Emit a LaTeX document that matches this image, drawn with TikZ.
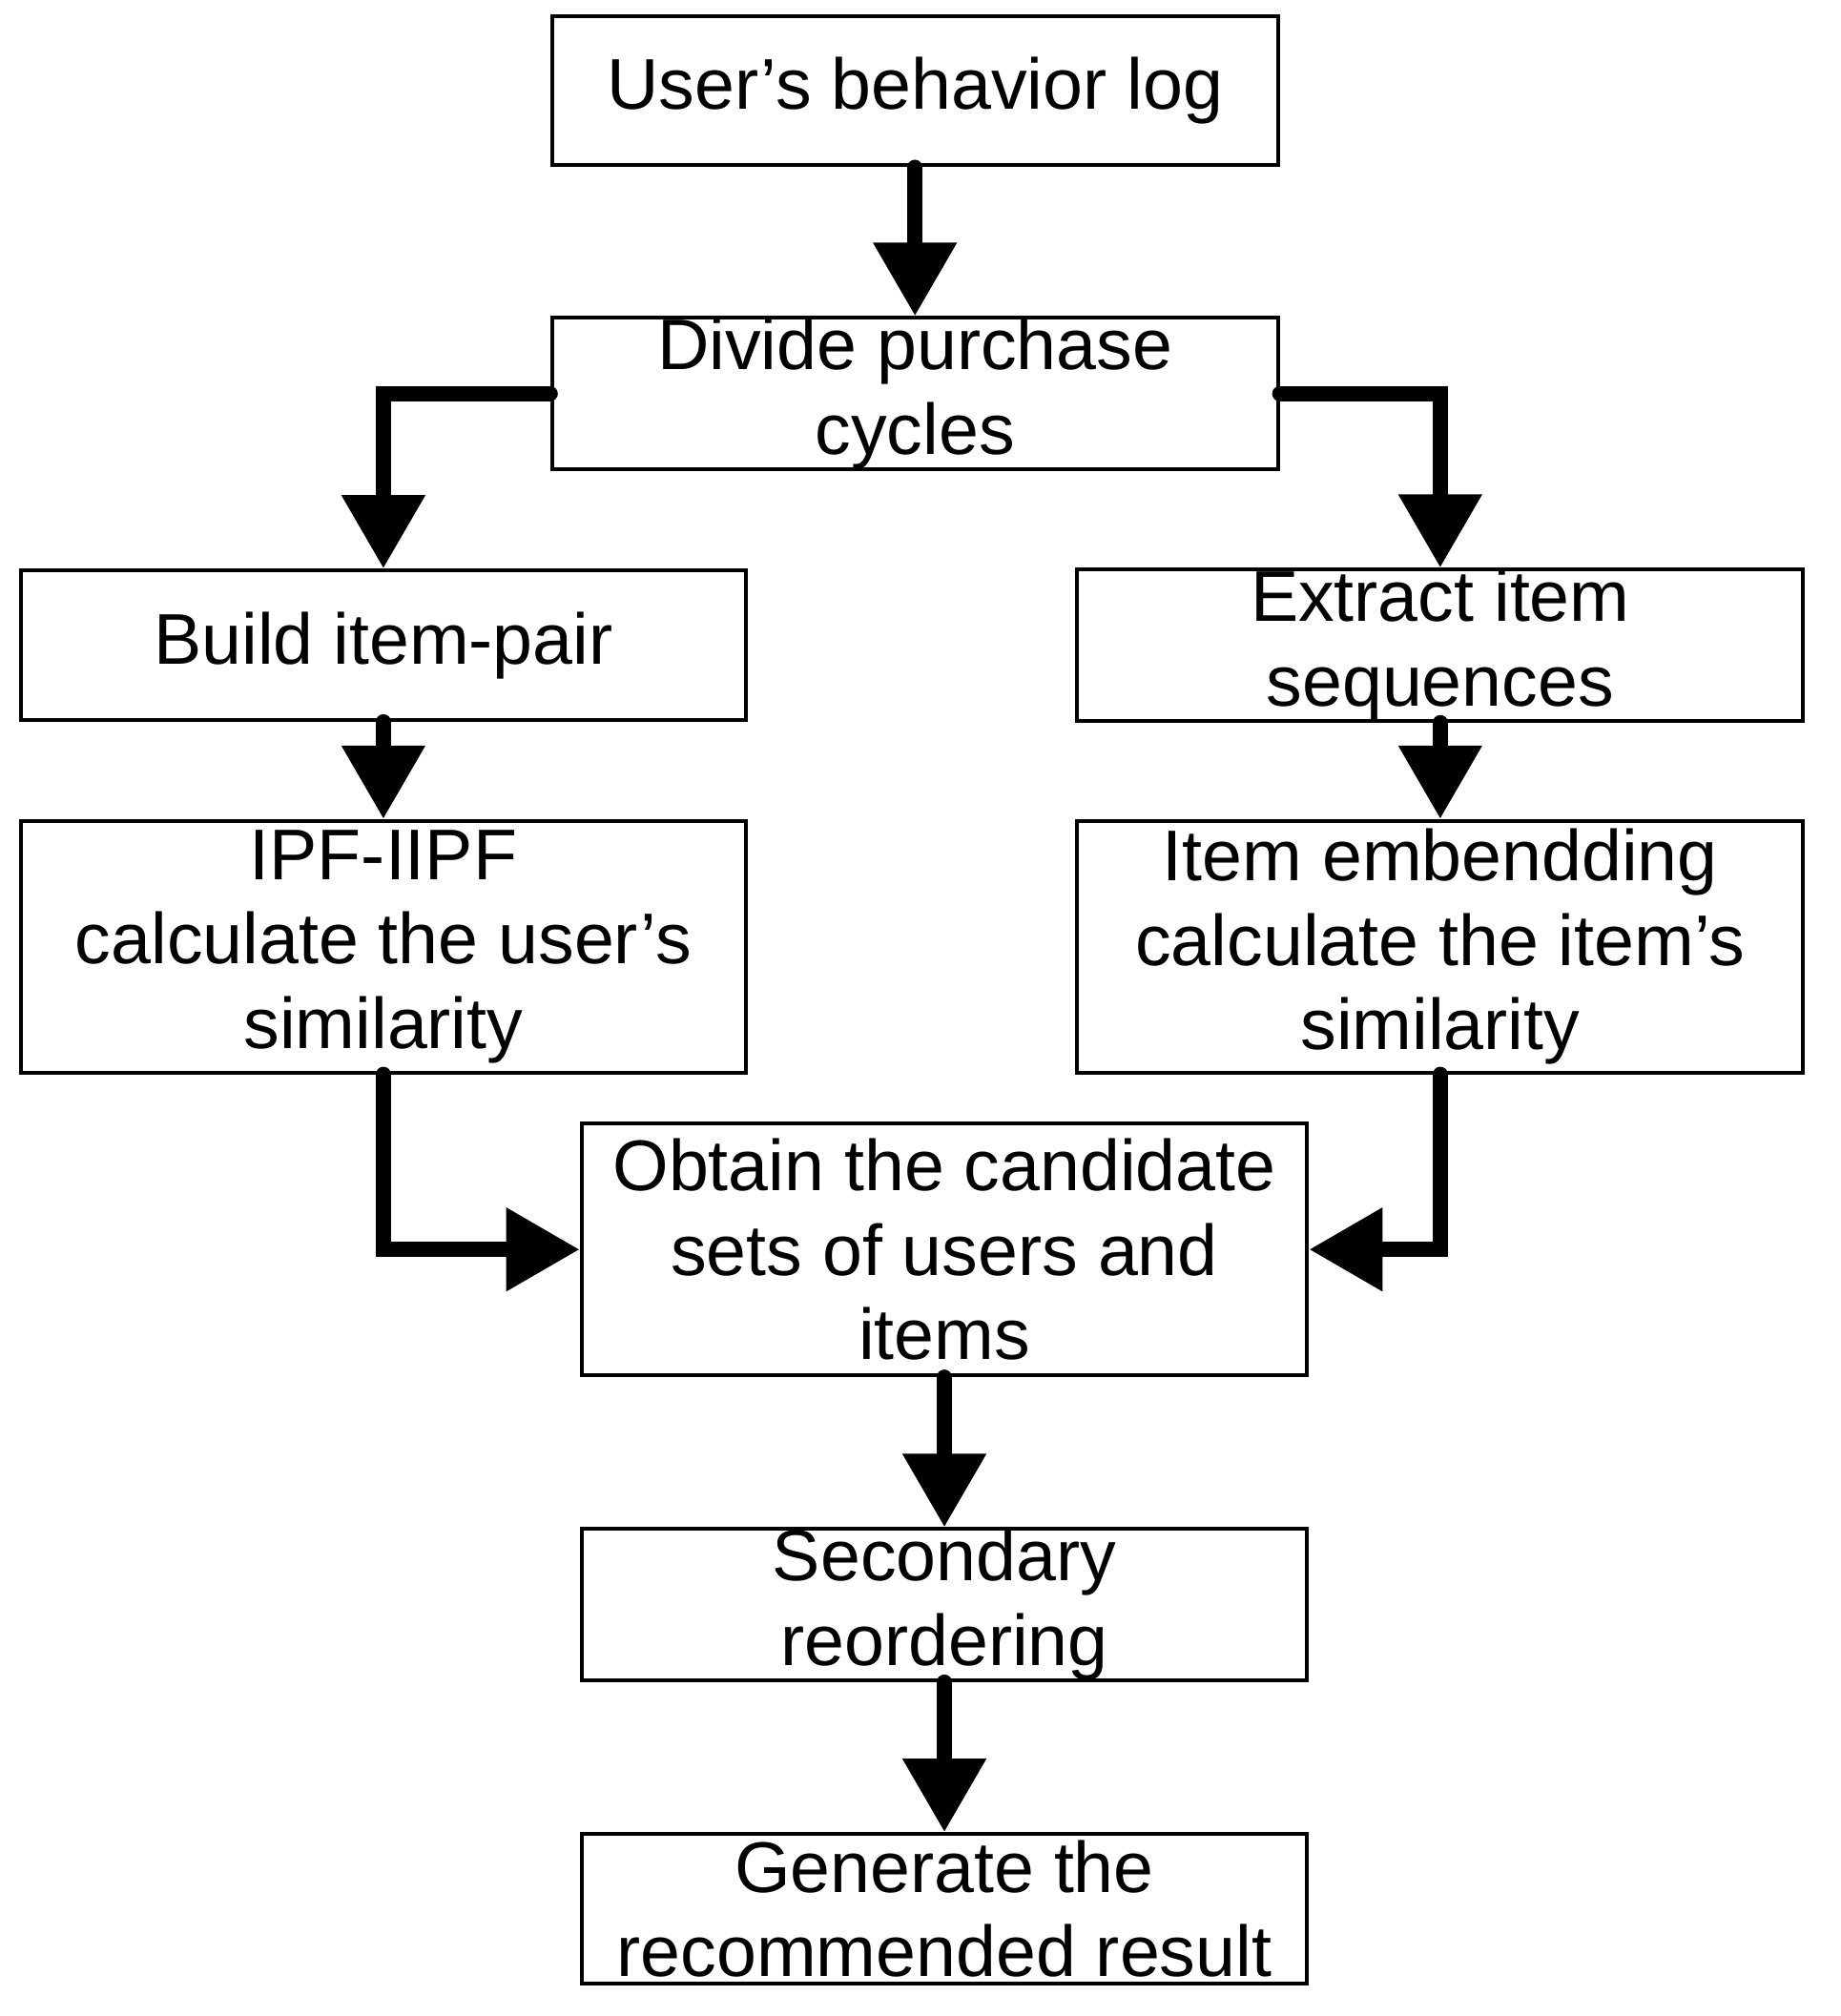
\documentclass[tikz,border=0pt]{standalone}
\usepackage{fontspec}
\setmainfont{Liberation Sans}
\usetikzlibrary{arrows.meta}
\tikzset{
    stage/.style={draw, line width=1.7pt, minimum width=11.36cm, minimum height=2.34cm,
        inner sep=0pt, align=center, font=\fontsize{32}{37.5}\selectfont},
    tall/.style={minimum height=3.94cm},
    flow/.style={line width=6.8pt, line cap=round,
        -{Triangle[width=1.25cm,length=1.15cm]}} }

\begin{document}
\begin{tikzpicture}[x=0.02cm, y=-0.02cm]
      \useasboundingbox (0,0) rectangle (1440,1578);
      \node[stage] (log) at (716,71) {User’s behavior log};
      \node[stage] (div) at (716,308) {Divide purchase\\cycles};
      \node[stage] (pair) at (300,505) {Build item-pair};
      \node[stage] (seq) at (1127,505) {Extract item\\sequences};
      \node[stage, tall] (ipf) at (300,741) {IPF-IIPF\\calculate the user’s\\similarity};
      \node[stage, tall] (emb) at (1127,741) {Item embendding\\calculate the item’s\\similarity};
      \node[stage, tall] (cand) at (739,978) {Obtain the candidate\\sets of users and\\items};
      \node[stage] (reord) at (739,1256) {Secondary\\reordering};
      \node[stage] (result) at (739,1494) {Generate the\\recommended result};
      % ----
      \draw[flow] (log.south) -- (div.north);
      \draw[flow] (div.west) -| (pair.north);
      \draw[flow] (div.east) -| (seq.north);
      \draw[flow] (pair.south) -- (ipf.north);
      \draw[flow] (seq.south) -- (emb.north);
      \draw[flow] (ipf.south) |- (cand.west);
      \draw[flow] (emb.south) |- (cand.east);
      \draw[flow] (cand.south) -- (reord.north);
      \draw[flow] (reord.south) -- (result.north);
\end{tikzpicture}
\end{document}
